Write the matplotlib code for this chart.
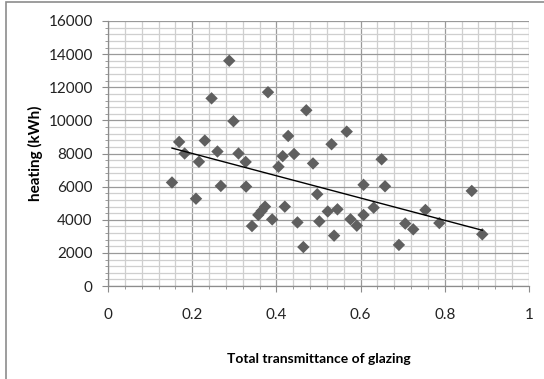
import numpy as np
import matplotlib
matplotlib.use("Agg")
import matplotlib.pyplot as plt
from matplotlib.patches import Rectangle
from matplotlib.ticker import MultipleLocator

transmittance = [0.152, 0.169, 0.182, 0.209, 0.216, 0.230, 0.246, 0.260, 0.268, 0.288,
                 0.298, 0.310, 0.327, 0.328, 0.342, 0.357, 0.365, 0.373, 0.380, 0.390,
                 0.405, 0.415, 0.420, 0.428, 0.442, 0.450, 0.464, 0.471, 0.487, 0.497,
                 0.502, 0.522, 0.531, 0.537, 0.545, 0.567, 0.576, 0.591, 0.607, 0.607,
                 0.631, 0.650, 0.658, 0.691, 0.706, 0.725, 0.754, 0.787, 0.864, 0.889]
heating = [6250, 8700, 8000, 5270, 7500, 8780, 11330, 8120, 6040, 13600,
           9950, 8000, 7490, 6000, 3620, 4290, 4530, 4790, 11700, 4020,
           7200, 7840, 4790, 9060, 7970, 3840, 2350, 10610, 7400, 5540,
           3900, 4500, 8560, 3040, 4630, 9320, 4030, 3640, 6110, 4290,
           4730, 7650, 6020, 2480, 3770, 3420, 4590, 3800, 5740, 3120]

x_ticks = [0, 0.2, 0.4, 0.6, 0.8, 1]
x_ticklabels = ["0", "0.2", "0.4", "0.6", "0.8", "1"]
y_ticks = [0, 2000, 4000, 6000, 8000, 10000, 12000, 14000, 16000]

plt.rcParams['font.family'] = ['Lato', 'DejaVu Sans']

fig = plt.figure(figsize=(5.44, 3.79), dpi=100)
ax = fig.add_axes([108/544, 1-286/379, 421/544, 265/379])

fig.patches.append(Rectangle((6/544, -0.1), 1.2, 1.1 - 2/379, transform=fig.transFigure,
                             fill=False, edgecolor="#8c8c8c", linewidth=1.2, zorder=0))

ax.set_xlim(0, 1)
ax.set_ylim(0, 16000)
ax.set_xticks(x_ticks)
ax.set_xticklabels(x_ticklabels)
ax.set_yticks(y_ticks)
ax.xaxis.set_minor_locator(MultipleLocator(0.04))
ax.yaxis.set_minor_locator(MultipleLocator(400))

ax.grid(which="major", color="#9a9a9a", linewidth=0.9)
ax.grid(which="minor", color="#cfcfcf", linewidth=0.9)
ax.set_axisbelow(True)

for s in ["top", "right"]:
    ax.spines[s].set_visible(False)
for s in ["left", "bottom"]:
    ax.spines[s].set_color("#8c8c8c")
    ax.spines[s].set_linewidth(0.9)

ax.tick_params(which="major", direction="out", length=4, color="#8c8c8c", labelsize=11,
               labelcolor="#222222", pad=7)
ax.tick_params(which="minor", direction="out", length=2, color="#8c8c8c")
ax.tick_params(axis="x", pad=12)

ax.scatter(transmittance, heating, marker="D", s=40, color="#5f5f5f", edgecolors="none", zorder=3)

coef = np.polyfit(transmittance, heating, 1)
xs = np.array([min(transmittance), max(transmittance)])
ax.plot(xs, np.polyval(coef, xs), color="black", linewidth=1, zorder=4)

ax.set_xlabel("Total transmittance of glazing", fontsize=10, fontweight="bold", labelpad=22)
ax.set_ylabel("heating (kWh)", fontsize=11, fontweight="bold", labelpad=4)

fig.savefig("out.png", dpi=100)
